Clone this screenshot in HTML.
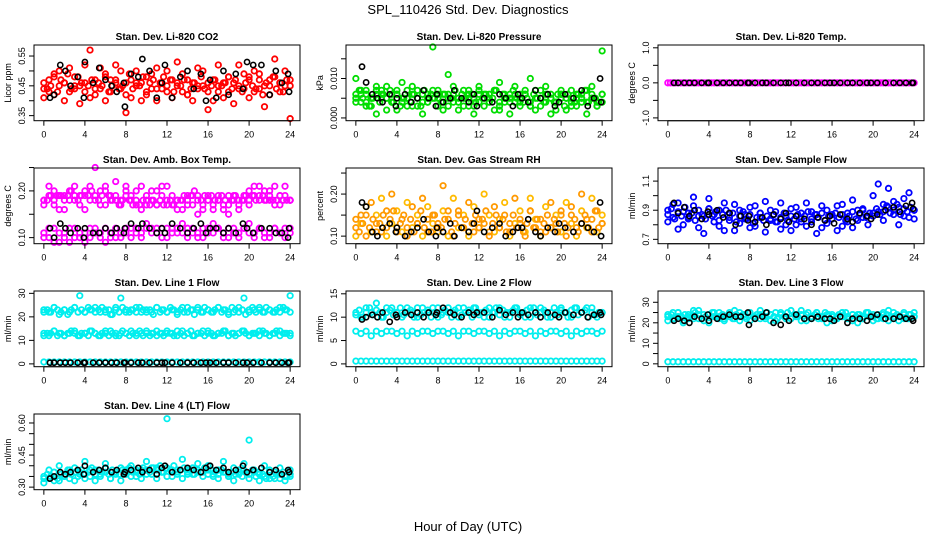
<!DOCTYPE html>
<html><head><meta charset="utf-8"><style>
body{margin:0;background:#fff}
svg{display:block;font-family:"Liberation Sans",sans-serif}
</style></head><body>
<svg id="c" width="936" height="540" viewBox="0 0 936 540">
<rect width="936" height="540" fill="#fff"/>
<text x="468" y="14" text-anchor="middle" font-size="13">SPL_110426  Std. Dev. Diagnostics</text>
<text x="468" y="531" text-anchor="middle" font-size="13">Hour of Day (UTC)</text>
</svg>
<script>
const blackHours=[0.6,1.0,1.6,2.1,2.6,3.3,3.9,4.0,4.8,5.4,6.0,6.6,7.1,7.8,7.9,8.5,9.2,9.6,10.3,11.0,11.5,11.8,12.5,13.3,14.0,14.6,15.3,15.8,16.2,16.8,17.5,18.0,18.7,19.4,19.8,20.4,21.2,22.0,22.6,23.2,23.8,23.9];
const xTicks=[0,4,8,12,16,20,24];
const co2A=[0.44,0.47,0.42,0.50,0.46,0.43,0.48,0.45,0.52,0.41,0.47,0.44,0.49,0.43,0.46,0.50,0.42,0.47,0.45,0.40,0.48,0.44,0.51,0.46,0.43,0.47,0.45,0.49,0.42,0.46,0.44,0.50,0.43,0.47,0.45,0.41,0.48,0.46,0.52,0.44,0.47,0.43,0.49,0.45,0.42,0.48,0.46,0.50,0.47];
const co2B=[0.41,0.43,0.49,0.45,0.40,0.51,0.44,0.39,0.46,0.57,0.42,0.51,0.40,0.47,0.52,0.44,0.36,0.41,0.50,0.46,0.42,0.49,0.40,0.44,0.50,0.41,0.53,0.43,0.47,0.40,0.51,0.45,0.37,0.40,0.52,0.46,0.43,0.39,0.44,0.49,0.41,0.50,0.44,0.38,0.47,0.54,0.43,0.45,0.34];
const co2C=[0.46,0.44,0.45,0.48,0.43,0.47,0.46,0.49,0.44,0.45,0.48,0.46,0.43,0.45,0.47,0.44,0.46,0.45,0.48,0.43,0.45,0.47,0.44,0.45,0.46,0.49,0.44,0.46,0.45,0.48,0.43,0.46,0.47,0.44,0.46,0.48,0.45,0.47,0.43,0.46,0.45,0.47,0.42,0.44,0.46,0.45,0.48,0.44,0.46,0.45,0.47,0.43,0.45,0.46,0.48,0.44,0.47,0.45,0.43,0.46,0.48,0.45,0.44,0.47,0.42,0.46,0.45,0.48,0.44,0.46,0.43,0.47,0.45];
const co2K=[0.41,0.42,0.52,0.50,0.45,0.48,0.41,0.53,0.46,0.51,0.47,0.45,0.43,0.46,0.38,0.49,0.48,0.54,0.50,0.41,0.46,0.52,0.41,0.48,0.50,0.44,0.49,0.40,0.47,0.41,0.50,0.42,0.49,0.44,0.53,0.52,0.52,0.42,0.50,0.46,0.49,0.43];
const prA=[0.006,0.004,0.007,0.003,0.008,0.005,0.002,0.006,0.007,0.004,0.005,0.008,0.003,0.006,0.004,0.007,0.005,0.002,0.006,0.008,0.004,0.005,0.007,0.003,0.006,0.005,0.004,0.007,0.002,0.006,0.005,0.008,0.004,0.006,0.003,0.007,0.005,0.004,0.006,0.002,0.007,0.005,0.003,0.006,0.004,0.007,0.005,0.003,0.006];
const prB=[0.010,0.007,0.003,0.005,0.001,0.006,0.008,0.004,0.002,0.009,0.005,0.003,0.007,0.001,0.005,0.018,0.003,0.006,0.011,0.004,0.002,0.007,0.005,0.001,0.008,0.003,0.006,0.002,0.009,0.004,0.001,0.006,0.003,0.007,0.010,0.002,0.005,0.008,0.001,0.004,0.006,0.002,0.007,0.003,0.005,0.001,0.008,0.004,0.017];
const prC=[0.005,0.006,0.004,0.005,0.006,0.007,0.005,0.004,0.006,0.005,0.003,0.006,0.005,0.004,0.006,0.005,0.006,0.004,0.005,0.006,0.005,0.003,0.006,0.005,0.004,0.006,0.005,0.007,0.004,0.005,0.006,0.004,0.005,0.006,0.004,0.005,0.003,0.006,0.005,0.004,0.006,0.005,0.004,0.005,0.006,0.004,0.005,0.003,0.004];
const prD=[0.004,0.007,0.005,0.006,0.003,0.005,0.007,0.004,0.006,0.005,0.007,0.004,0.006,0.003,0.005,0.007,0.004,0.006,0.005,0.003,0.007,0.004,0.006,0.005,0.007,0.004,0.006,0.003,0.005,0.007,0.004,0.006,0.005,0.003,0.006,0.004,0.007,0.005,0.006,0.004,0.005,0.007,0.003,0.006,0.005,0.004,0.007,0.005,0.006,0.004,0.005,0.003,0.006,0.005,0.007,0.004,0.006,0.005,0.004,0.006,0.005,0.003,0.006,0.005,0.004,0.006,0.005,0.007,0.004,0.006,0.005,0.004,0.006];
const prK=[0.013,0.009,0.006,0.005,0.004,0.006,0.003,0.005,0.006,0.004,0.005,0.007,0.005,0.003,0.006,0.004,0.005,0.007,0.005,0.004,0.006,0.003,0.005,0.004,0.006,0.005,0.003,0.006,0.005,0.004,0.007,0.005,0.006,0.003,0.004,0.006,0.005,0.007,0.003,0.005,0.010,0.004];
const tmpA=[0,0,0,0,0,0,0,0,0,0,0,0,0,0,0,0,0,0,0,0,0,0,0,0,0,0,0,0,0,0,0,0,0,0,0,0,0,0,0,0,0,0,0,0,0,0,0,0,0,0,0,0,0,0,0,0,0,0,0,0,0,0,0,0,0,0,0,0,0,0,0,0,0,0,0,0,0,0,0,0,0,0,0,0,0,0,0,0,0,0,0,0,0,0,0,0,0];
const tmpK=[0,0,0,0,0,0,0,0,0,0,0,0,0,0,0,0,0,0,0,0,0,0,0,0,0,0,0,0,0,0,0,0,0,0,0,0,0,0,0,0,0,0];
const ambHiA=[0.18,0.21,0.17,0.19,0.16,0.20,0.18,0.17,0.19,0.21,0.18,0.20,0.17,0.19,0.22,0.18,0.20,0.19,0.17,0.21,0.19,0.18,0.20,0.19,0.21,0.17,0.18,0.16,0.19,0.17,0.18,0.16,0.19,0.17,0.18,0.16,0.17,0.19,0.16,0.18,0.20,0.21,0.19,0.20,0.18,0.21,0.17,0.19,0.18];
const ambHiB=[0.17,0.19,0.20,0.16,0.19,0.18,0.21,0.19,0.16,0.18,0.25,0.17,0.21,0.18,0.19,0.17,0.21,0.18,0.20,0.16,0.18,0.20,0.17,0.21,0.18,0.19,0.16,0.18,0.17,0.19,0.15,0.17,0.18,0.16,0.19,0.17,0.15,0.18,0.17,0.19,0.17,0.19,0.21,0.18,0.20,0.17,0.19,0.21,0.18];
const ambHiC=[0.18,0.18,0.19,0.18,0.19,0.19,0.18,0.19,0.20,0.19,0.18,0.19,0.20,0.19,0.20,0.19,0.18,0.19,0.20,0.19,0.18,0.18,0.17,0.18,0.19,0.18,0.17,0.18,0.17,0.18,0.17,0.17,0.18,0.17,0.18,0.17,0.17,0.18,0.17,0.18,0.18,0.19,0.18,0.19,0.20,0.19,0.18,0.19,0.18,0.19,0.18,0.18,0.19,0.18,0.19,0.18,0.19,0.18,0.18,0.19,0.18,0.19,0.18,0.18,0.19,0.18,0.19,0.18,0.18,0.19,0.18,0.18,0.18];
const ambLoA=[0.11,0.10,0.12,0.09,0.11,0.12,0.10,0.11,0.09,0.12,0.11,0.10,0.12,0.11,0.10,0.11,0.12,0.10,0.12,0.11,0.13,0.12,0.11,0.12,0.10,0.12,0.11,0.13,0.12,0.11,0.10,0.12,0.11,0.13,0.12,0.11,0.10,0.12,0.11,0.12,0.13,0.11,0.12,0.10,0.11,0.12,0.11,0.10,0.12];
const ambLoB=[0.10,0.12,0.09,0.11,0.10,0.09,0.12,0.10,0.11,0.10,0.12,0.11,0.09,0.10,0.12,0.10,0.11,0.12,0.11,0.10,0.12,0.11,0.12,0.10,0.12,0.11,0.12,0.11,0.10,0.12,0.11,0.10,0.12,0.11,0.12,0.10,0.12,0.11,0.10,0.12,0.11,0.10,0.12,0.11,0.10,0.12,0.11,0.12,0.11];
const ambK=[0.12,0.10,0.13,0.12,0.11,0.12,0.10,0.12,0.11,0.11,0.12,0.11,0.12,0.11,0.12,0.13,0.12,0.13,0.12,0.11,0.12,0.11,0.13,0.12,0.11,0.12,0.13,0.11,0.12,0.12,0.11,0.12,0.11,0.13,0.12,0.11,0.12,0.12,0.11,0.11,0.10,0.12];
const rhA=[0.12,0.15,0.10,0.18,0.13,0.11,0.16,0.20,0.12,0.14,0.10,0.17,0.13,0.19,0.11,0.15,0.12,0.22,0.14,0.10,0.16,0.12,0.18,0.11,0.14,0.13,0.10,0.17,0.12,0.15,0.11,0.19,0.13,0.10,0.16,0.12,0.14,0.11,0.18,0.13,0.15,0.10,0.17,0.12,0.20,0.14,0.11,0.16,0.13];
const rhB=[0.10,0.13,0.17,0.11,0.15,0.19,0.10,0.13,0.16,0.11,0.18,0.12,0.15,0.10,0.17,0.13,0.11,0.16,0.10,0.19,0.12,0.15,0.10,0.17,0.12,0.20,0.15,0.11,0.14,0.18,0.10,0.13,0.16,0.11,0.19,0.14,0.10,0.17,0.12,0.15,0.11,0.18,0.13,0.10,0.16,0.12,0.19,0.11,0.15];
const rhC=[0.14,0.11,0.13,0.15,0.12,0.14,0.11,0.13,0.15,0.12,0.14,0.16,0.11,0.13,0.15,0.12,0.14,0.11,0.13,0.16,0.12,0.14,0.11,0.15,0.13,0.12,0.14,0.16,0.11,0.13,0.15,0.12,0.14,0.11,0.13,0.15,0.12,0.14,0.16,0.11,0.13,0.15,0.12,0.14,0.11,0.13,0.15,0.12,0.14,0.11,0.13,0.16,0.12,0.14,0.11,0.13,0.15,0.12,0.14,0.11,0.16,0.13,0.12,0.15,0.14,0.11,0.13,0.15,0.12,0.14,0.16,0.12,0.13];
const rhK=[0.18,0.17,0.11,0.10,0.12,0.13,0.11,0.12,0.10,0.11,0.12,0.14,0.11,0.10,0.12,0.11,0.13,0.10,0.12,0.11,0.13,0.16,0.11,0.12,0.13,0.10,0.11,0.12,0.12,0.14,0.11,0.10,0.12,0.11,0.13,0.12,0.11,0.13,0.12,0.11,0.18,0.10];
const sfA=[0.90,0.85,0.95,0.80,0.88,0.93,0.78,0.86,0.98,0.82,0.90,0.76,0.88,0.94,0.81,0.87,0.92,0.79,0.85,0.96,0.83,0.89,0.77,0.86,0.91,0.80,0.88,0.95,0.82,0.87,0.78,0.90,0.84,0.93,0.79,0.88,0.97,0.83,0.91,0.86,1.00,0.89,0.94,1.05,0.87,0.92,0.98,0.85,0.90];
const sfB=[0.82,0.94,0.77,0.89,0.84,0.99,0.86,0.74,0.91,0.87,0.79,0.95,0.83,0.76,0.90,0.84,0.78,0.93,0.88,0.75,0.90,0.82,0.95,0.80,0.76,0.92,0.84,0.79,0.89,0.74,0.93,0.81,0.87,0.76,0.94,0.82,0.78,0.90,0.85,0.80,0.88,1.08,0.83,0.92,0.96,0.80,0.86,1.02,0.84];
const sfC=[0.87,0.91,0.84,0.89,0.86,0.92,0.85,0.88,0.83,0.90,0.87,0.84,0.91,0.86,0.89,0.83,0.87,0.90,0.85,0.88,0.82,0.86,0.89,0.84,0.87,0.81,0.85,0.88,0.83,0.86,0.84,0.87,0.82,0.85,0.88,0.83,0.86,0.84,0.87,0.82,0.86,0.89,0.84,0.87,0.85,0.88,0.83,0.86,0.84,0.88,0.85,0.87,0.83,0.86,0.89,0.84,0.87,0.90,0.85,0.88,0.86,0.91,0.87,0.89,0.93,0.88,0.90,0.94,0.87,0.91,0.89,0.92,0.90];
const sfK=[0.95,0.88,0.92,0.86,0.90,0.84,0.89,0.87,0.90,0.85,0.88,0.80,0.86,0.83,0.86,0.82,0.85,0.80,0.87,0.84,0.88,0.82,0.86,0.84,0.80,0.85,0.83,0.86,0.81,0.87,0.84,0.82,0.88,0.86,0.84,0.87,0.90,0.92,0.89,0.93,0.95,0.91];
const l1A=[23,22,24,21,23,22,24,29,22,23,24,22,23,21,24,28,22,23,24,22,23,22,24,23,22,23,21,24,22,23,24,22,23,22,24,23,21,22,24,28,22,23,24,22,23,22,24,23,29];
const l1A2=[22,23,22,24,23,22,23,21,23,24,22,23,22,24,23,22,23,24,22,23,21,23,22,24,23,22,23,22,24,23,22,23,21,24,22,23,22,24,23,22,23,22,24,23,21,23,22,24,23,22,23,24,22,23,22,24,23,22,23,21,23,24,22,23,22,24,23,22,23,22,24,23,22];
const l1B=[13,12,14,13,12,13,14,12,13,14,13,12,13,14,12,13,13,14,12,13,14,13,12,13,14,13,12,14,13,12,13,14,13,12,13,14,12,13,13,14,12,13,14,13,12,13,14,13,13];
const l1B2=[12,13,13,14,12,13,12,13,14,13,12,13,13,12,14,13,12,13,14,12,13,13,12,14,13,12,13,13,14,12,13,12,13,14,13,12,13,13,12,14,13,12,13,14,12,13,13,12,14,13,12,13,13,14,12,13,12,13,14,13,12,13,13,12,14,13,12,13,14,12,13,13,12];
const l1C=[0.8,0.8,0.8,0.8,0.8,0.8,0.8,0.8,0.8,0.8,0.8,0.8,0.8,0.8,0.8,0.8,0.8,0.8,0.8,0.8,0.8,0.8,0.8,0.8,0.8,0.8,0.8,0.8,0.8,0.8,0.8,0.8,0.8,0.8,0.8,0.8,0.8,0.8,0.8,0.8,0.8,0.8,0.8,0.8,0.8,0.8,0.8,0.8,0.8];
const l1K=[0.5,0.5,0.5,0.5,0.5,0.5,0.5,0.5,0.5,0.5,0.5,0.5,0.5,0.5,0.5,0.5,0.5,0.5,0.5,0.5,0.5,0.5,0.5,0.5,0.5,0.5,0.5,0.5,0.5,0.5,0.5,0.5,0.5,0.5,0.5,0.5,0.5,0.5,0.5,0.5,0.5,0.5];
const l2A=[11,10,12,11,13,10,11,12,11,10,12,11,10,12,11,12,10,11,12,11,10,12,11,12,11,10,12,11,12,10,11,12,11,10,12,11,12,11,10,11,12,11,10,12,11,12,11,10,11];
const l2A2=[10.5,11.5,10,11,12,10.5,11.5,11,10,12,11.5,10.5,11,12,10.5,11,11.5,10,12,10.5,11,11.5,10,11,12,10.5,11.5,11,10,11.5,12,10.5,11,11.5,10,12,10.5,11,11.5,10,11,12,10.5,11.5,11,10,11.5,12,10.5,11,11.5,10,12,10.5,11,11.5,10,11,12,10.5,11.5,11,10,11.5,12,10.5,11,11.5,10,12,10.5,11,11];
const l2B=[7,6.5,7,6,7,6.5,7,7,6.5,7,6,7,6.5,7,7,6.5,7,7,6.5,7,6,7,7,6.5,7,7,6.5,7,6,7,6.5,7,7,6.5,7,6,7,6.5,7,7,6.5,7,6,7,6.5,7,7,6.5,7];
const l2C=[0.6,0.6,0.6,0.6,0.6,0.6,0.6,0.6,0.6,0.6,0.6,0.6,0.6,0.6,0.6,0.6,0.6,0.6,0.6,0.6,0.6,0.6,0.6,0.6,0.6,0.6,0.6,0.6,0.6,0.6,0.6,0.6,0.6,0.6,0.6,0.6,0.6,0.6,0.6,0.6,0.6,0.6,0.6,0.6,0.6,0.6,0.6,0.6,0.6];
const l2K=[9.5,10,10.5,10,11,9,10.5,10,11,10.5,11,10,11,10.5,11,12,11,10.5,10,11,10.5,11,11,10,11.5,10.5,11,10,11,10.5,11,10,11,10.5,10,11,10.5,11,10,10.5,11,10.5];
const l3A=[24,22,25,21,23,26,22,24,20,25,23,22,24,26,21,23,25,22,24,23,21,25,24,22,26,23,21,24,22,25,23,20,24,22,25,23,21,24,22,25,23,22,24,21,25,23,22,24,23];
const l3B=[21,25,23,20,24,22,26,21,24,23,25,21,23,22,25,24,21,23,26,22,24,21,25,23,22,24,26,21,23,25,22,24,21,23,25,22,24,20,23,25,21,24,22,26,23,21,24,22,25];
const l3D=[23,24,22,25,23,24,22,23,25,24,22,23,24,25,23,22,24,23,25,22,24,23,24,22,25,23,24,22,23,25,24,23,22,24,23,25,22,24,23,24,22,25,23,24,22,23,25,24,23,22,24,23,25,22,24,23,24,22,25,23,24,22,23,25,24,23,22,24,23,25,22,24,23];
const l3C=[1,1,1,1,1,1,1,1,1,1,1,1,1,1,1,1,1,1,1,1,1,1,1,1,1,1,1,1,1,1,1,1,1,1,1,1,1,1,1,1,1,1,1,1,1,1,1,1,1];
const l3K=[21,22,21,20,23,22,24,21,22,23,24,23,23,25,19,22,23,25,20,19,23,21,24,22,22,23,22,22,21,23,20,22,22,21,23,24,22,22,23,22,22,21];
const l4A=[0.35,0.38,0.33,0.40,0.36,0.34,0.39,0.37,0.42,0.35,0.38,0.36,0.41,0.34,0.37,0.39,0.36,0.40,0.35,0.38,0.42,0.36,0.39,0.37,0.62,0.35,0.38,0.43,0.36,0.39,0.41,0.37,0.40,0.35,0.38,0.42,0.36,0.39,0.37,0.41,0.52,0.38,0.36,0.40,0.34,0.37,0.39,0.35,0.38];
const l4B=[0.32,0.34,0.37,0.33,0.35,0.38,0.33,0.36,0.34,0.38,0.33,0.35,0.37,0.34,0.36,0.33,0.38,0.35,0.37,0.34,0.36,0.39,0.34,0.37,0.35,0.38,0.36,0.34,0.38,0.36,0.37,0.35,0.38,0.36,0.34,0.37,0.35,0.33,0.36,0.38,0.34,0.37,0.33,0.35,0.38,0.34,0.36,0.33,0.35];
const l4C=[0.34,0.36,0.35,0.37,0.34,0.36,0.35,0.38,0.36,0.37,0.35,0.38,0.36,0.37,0.39,0.36,0.38,0.37,0.39,0.36,0.38,0.37,0.36,0.38,0.37,0.39,0.37,0.38,0.36,0.39,0.38,0.37,0.39,0.38,0.40,0.37,0.39,0.38,0.40,0.37,0.38,0.39,0.37,0.38,0.36,0.38,0.37,0.39,0.36,0.38,0.37,0.36,0.38,0.37,0.35,0.37,0.36,0.38,0.35,0.37,0.36,0.38,0.35,0.37,0.36,0.34,0.37,0.35,0.36,0.34,0.37,0.35,0.36];
const l4K=[0.34,0.35,0.37,0.36,0.37,0.38,0.36,0.40,0.37,0.38,0.39,0.37,0.38,0.36,0.37,0.38,0.39,0.37,0.38,0.36,0.39,0.40,0.37,0.38,0.39,0.38,0.37,0.39,0.40,0.38,0.39,0.37,0.38,0.40,0.37,0.38,0.39,0.37,0.38,0.36,0.38,0.37];

const panels=[
 {c:0,r:0,t:"Stan. Dev. Li-820 CO2",yl:"Licor ppm",y0:0.333,y1:0.587,ticks:[0.35,0.40,0.45,0.50,0.55],labs:["0.35","","0.45","","0.55"],s:[[co2A,"#ff0000"],[co2B,"#ff0000"],[co2C,"#ff0000"]],k:co2K},
 {c:1,r:0,t:"Stan. Dev. Li-820 Pressure",yl:"kPa",y0:-0.0007,y1:0.0185,ticks:[0,0.005,0.010,0.015],labs:["0.000","","0.010",""],s:[[prA,"#00dd00"],[prB,"#00dd00"],[prC,"#00dd00"],[prD,"#00dd00"]],k:prK},
 {c:2,r:0,t:"Stan. Dev. Li-820 Temp.",yl:"degrees C",y0:-1.08,y1:1.08,ticks:[-1,-0.5,0,0.5,1],labs:["-1.0","","0.0","","1.0"],s:[[tmpA,"#ff00ff"]],k:tmpK},
 {c:0,r:1,t:"Stan. Dev. Amb. Box Temp.",yl:"degrees C",y0:0.087,y1:0.249,ticks:[0.10,0.15,0.20,0.25],labs:["0.10","","0.20",""],s:[[ambHiA,"#ff00ff"],[ambHiB,"#ff00ff"],[ambHiC,"#ff00ff"],[ambLoA,"#ff00ff"],[ambLoB,"#ff00ff"]],k:ambK},
 {c:1,r:1,t:"Stan. Dev. Gas Stream RH",yl:"percent",y0:0.082,y1:0.262,ticks:[0.10,0.15,0.20,0.25],labs:["0.10","","0.20",""],s:[[rhA,"#ff9900"],[rhB,"#ffbb00"],[rhC,"#ff9900"]],k:rhK},
 {c:2,r:1,t:"Stan. Dev. Sample Flow",yl:"ml/min",y0:0.67,y1:1.19,ticks:[0.7,0.8,0.9,1.0,1.1],labs:["0.7","","0.9","","1.1"],s:[[sfA,"#0000ff"],[sfB,"#0000ff"],[sfC,"#0000ff"]],k:sfK},
 {c:0,r:2,t:"Stan. Dev. Line 1 Flow",yl:"ml/min",y0:-1.2,y1:31,ticks:[0,10,20,30],labs:["0","10","20","30"],s:[[l1A,"#00eeee"],[l1A2,"#00eeee"],[l1B,"#00eeee"],[l1B2,"#00eeee"],[l1C,"#00eeee"]],k:l1K},
 {c:1,r:2,t:"Stan. Dev. Line 2 Flow",yl:"ml/min",y0:-0.6,y1:15.6,ticks:[0,5,10,15],labs:["0","5","10","15"],s:[[l2A,"#00eeee"],[l2A2,"#00eeee"],[l2B,"#00eeee"],[l2C,"#00eeee"]],k:l2K},
 {c:2,r:2,t:"Stan. Dev. Line 3 Flow",yl:"ml/min",y0:-1.4,y1:35.5,ticks:[0,5,10,15,20,25,30],labs:["0","","10","","20","","30"],s:[[l3A,"#00eeee"],[l3B,"#00eeee"],[l3D,"#00eeee"],[l3C,"#00eeee"]],k:l3K},
 {c:0,r:3,t:"Stan. Dev. Line 4 (LT) Flow",yl:"ml/min",y0:0.288,y1:0.642,ticks:[0.30,0.35,0.40,0.45,0.50,0.55,0.60],labs:["0.30","","","0.45","","","0.60"],s:[[l4A,"#00eeee"],[l4B,"#00eeee"],[l4C,"#00eeee"]],k:l4K}
];
const NS="http://www.w3.org/2000/svg";
const svg=document.getElementById('c');
function mk(tag,at,parent){const e=document.createElementNS(NS,tag);for(const a in at)e.setAttribute(a,at[a]);(parent||svg).appendChild(e);return e;}
panels.forEach((p,pi)=>{
 const L=34+p.c*312,R=L+266,T=45+p.r*123,B=T+75.7;
 const g=mk('g',{});
 
 
 const xs=v=>L+(v+0.96)/(25.92)*(R-L);
 const ys=v=>B-(v-p.y0)/(p.y1-p.y0)*(B-T);
 const tt=mk('text',{x:(L+R)/2,y:T-5,'text-anchor':'middle','font-size':10,'font-weight':'bold'},g);tt.textContent=p.t;
 
 
 p.s.forEach(([arr,col])=>{
  arr.forEach((v,i)=>{
   const c=mk('circle',{cx:xs(i*24/(arr.length-1)),cy:ys(v),r:2.7,fill:'none',stroke:col,'stroke-width':1.8},g);
   
   
  });
 });
 const n=Math.min(blackHours.length,p.k.length);
 for(let i=0;i<n;i++){
  const c=mk('circle',{cx:xs(blackHours[i]),cy:ys(p.k[i]),r:2.6,fill:'none',stroke:'#000','stroke-width':1.6},g);
  
  
 }
 const box=mk('rect',{x:L,y:T,width:R-L,height:B-T,fill:'none',stroke:'#000','stroke-width':1},g);
 
 
 mk('line',{x1:xs(0),x2:xs(24),y1:B,y2:B,stroke:'#000'},g);
 xTicks.forEach(v=>{
  mk('line',{x1:xs(v),x2:xs(v),y1:B,y2:B+5,stroke:'#000'},g);
  const t=mk('text',{x:xs(v),y:B+17,'text-anchor':'middle','font-size':9},g);t.textContent=v;
  
  
 });
 p.ticks.forEach((v,i)=>{
  const y=ys(v);
  mk('line',{x1:L,x2:L-5,y1:y,y2:y,stroke:'#000'},g);
  if(p.labs[i]){
   const t=mk('text',{x:0,y:0,'text-anchor':'middle','font-size':9,transform:`translate(${L-9},${y}) rotate(-90)`},g);t.textContent=p.labs[i];
   
   
  }
 });
 const yl=mk('text',{x:0,y:0,'text-anchor':'middle','font-size':9,transform:`translate(${L-23},${(T+B)/2}) rotate(-90)`},g);yl.textContent=p.yl;
 
 
});
</script>
</body></html>
